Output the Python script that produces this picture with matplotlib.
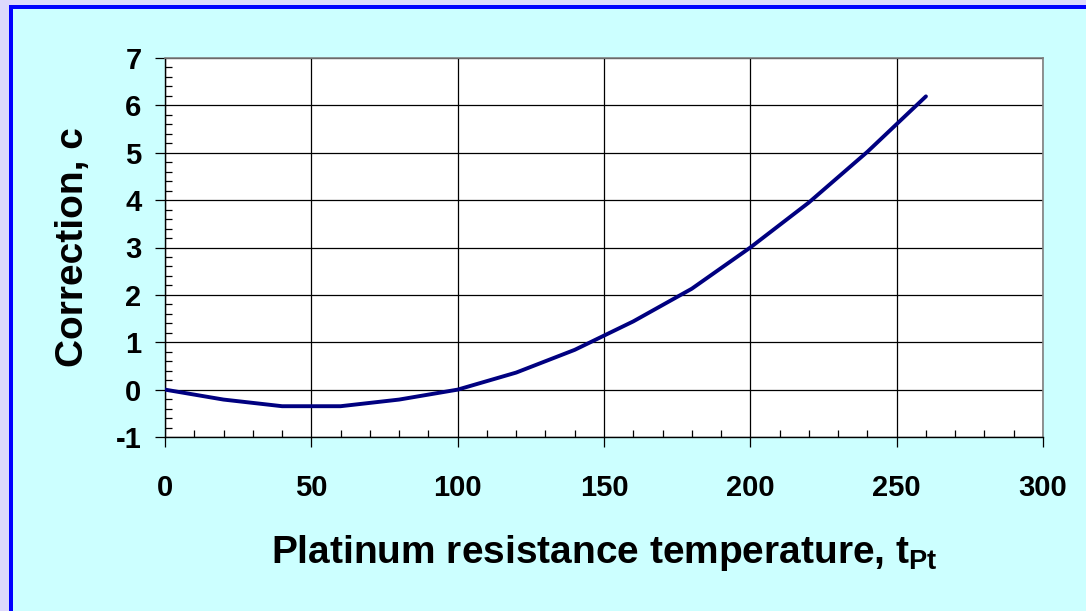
import matplotlib
matplotlib.use("Agg")
import matplotlib.pyplot as plt
from matplotlib.patches import Rectangle
from matplotlib.ticker import MultipleLocator

# data
temperature = [0, 20, 40, 60, 80, 100, 120, 140, 160, 180, 200, 220, 240, 260]
correction = [0.0, -0.21, -0.35, -0.35, -0.21, 0.0, 0.36, 0.84, 1.44, 2.13,
              3.0, 3.95, 5.02, 6.19]

plt.rcParams["font.family"] = ["Liberation Sans", "DejaVu Sans"]
plt.rcParams["font.weight"] = "bold"
plt.rcParams["axes.unicode_minus"] = False
plt.rcParams["mathtext.fontset"] = "custom"
plt.rcParams["mathtext.bf"] = "Liberation Sans:bold"
plt.rcParams["mathtext.rm"] = "Liberation Sans:bold"

W, H = 1086, 611
fig = plt.figure(figsize=(W / 100, H / 100), dpi=100)
fig.patch.set_facecolor("#DDD9FC")

# blue frame and cyan panel (slide crop)
fig.patches.append(Rectangle((9 / W, 0), 1, 1 - 5 / H, transform=fig.transFigure,
                             facecolor="#0000FF", edgecolor="none", zorder=-2))
fig.patches.append(Rectangle((13 / W, 0), 1, 1 - 9 / H, transform=fig.transFigure,
                             facecolor="#CCFFFF", edgecolor="none", zorder=-1))

ax = fig.add_axes([165 / W, 1 - 437 / H, (1043 - 165) / W, (437 - 58) / H])
ax.set_facecolor("white")

ax.plot(temperature, correction, color="#000080", lw=2.8, solid_capstyle="round",
        zorder=3)

ax.set_xlim(0, 300)
ax.set_ylim(-1, 7)
ax.xaxis.set_major_locator(MultipleLocator(50))
ax.xaxis.set_minor_locator(MultipleLocator(10))
ax.yaxis.set_major_locator(MultipleLocator(1))
ax.yaxis.set_minor_locator(MultipleLocator(0.2))

ax.grid(True, which="major", color="black", lw=0.9)
ax.set_axisbelow(True)

ax.tick_params(which="major", direction="out", length=7, width=0.9, colors="black",
               labelsize=21)
ax.tick_params(which="minor", direction="in", length=5, width=0.9, colors="black")
ax.tick_params(axis="x", which="major", pad=20)
ax.tick_params(axis="y", which="major", pad=10)

for s in ["left", "bottom"]:
    ax.spines[s].set_color("black")
    ax.spines[s].set_linewidth(1.0)
for s in ["top", "right"]:
    ax.spines[s].set_color("#808080")
    ax.spines[s].set_linewidth(1.2)

for lab in ax.get_xticklabels() + ax.get_yticklabels():
    lab.set_fontweight("bold")

ax.set_ylabel("Correction, c", fontsize=28, fontweight="bold", labelpad=18)
ax.set_xlabel(r"Platinum resistance temperature, $\mathbf{t_{Pt}}$", fontsize=28,
              fontweight="bold", labelpad=22)

fig.savefig("out.png", dpi=100, facecolor=fig.get_facecolor())
